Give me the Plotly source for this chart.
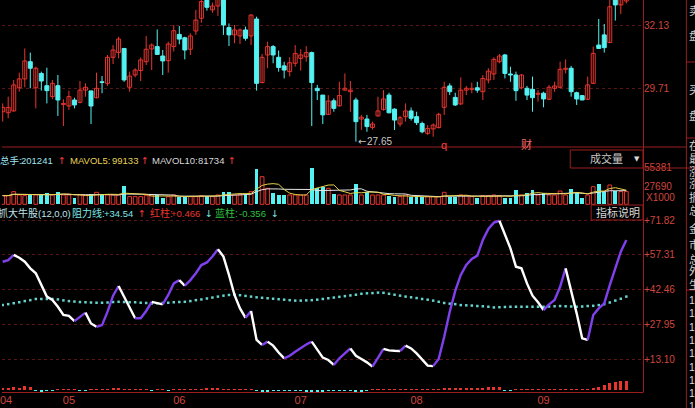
import plotly.graph_objects as go
import pandas as pd

# ---------------- data ----------------
open_ = [28.80, 28.76, 28.83, 29.72, 30.06, 30.72, 29.72, 30.27, 29.80, 29.38,
         29.80, 29.08, 29.02, 29.25, 29.16, 29.63, 29.60, 29.34, 29.95, 29.89,
         30.89, 31.07, 31.23, 29.74, 30.21, 30.38, 30.72, 31.21, 31.30, 30.94,
         30.76, 31.30, 31.77, 31.64, 31.20, 31.90, 32.39, 33.20, 32.71, 32.86,
         33.22, 32.03, 31.75, 31.71, 31.94, 31.71, 32.36, 29.92, 30.98, 31.30,
         30.89, 30.56, 30.34, 30.66, 30.85, 30.91, 31.07, 29.70, 29.44, 28.70,
         29.22, 29.03, 29.63, 29.57, 29.25, 28.52, 28.52, 28.20, 28.64, 28.89,
         29.44, 28.90, 28.33, 28.61, 28.83, 28.61, 28.35, 27.97, 28.14, 28.19,
         28.97, 29.79, 29.35, 29.10, 29.63, 29.66, 29.72, 29.57, 30.02, 30.25,
         30.72, 30.98, 30.25, 30.21, 29.72, 29.70, 29.66, 29.47, 29.51, 29.28,
         29.70, 29.74, 30.43, 30.47, 29.53, 29.42, 29.28, 29.89, 31.36, 31.75,
         31.46, 33.22, 32.90, 33.05]
high = [29.12, 29.38, 30.02, 30.30, 31.23, 31.07, 30.53, 30.34, 30.49, 30.02,
        30.21, 29.28, 29.61, 29.34, 29.98, 29.89, 29.60, 30.30, 30.17, 30.98,
        31.36, 31.68, 31.23, 30.34, 30.47, 30.88, 31.71, 31.43, 31.96, 31.17,
        31.49, 32.13, 32.09, 31.68, 31.81, 32.71, 33.15, 33.40, 32.99, 33.47,
        33.35, 32.19, 32.13, 32.00, 32.07, 32.55, 32.45, 31.02, 31.49, 31.36,
        31.15, 30.72, 30.89, 31.36, 31.20, 31.32, 31.11, 29.83, 29.44, 29.44,
        29.31, 29.95, 30.27, 29.98, 29.34, 28.68, 28.68, 28.42, 29.38, 29.63,
        29.53, 28.93, 28.64, 29.12, 28.96, 28.80, 28.42, 28.29, 28.35, 28.76,
        29.95, 29.89, 29.53, 30.12, 29.79, 29.92, 29.95, 30.21, 30.47, 30.89,
        31.02, 31.02, 30.53, 30.34, 30.25, 29.79, 30.15, 29.63, 29.57, 29.83,
        29.95, 30.72, 30.81, 30.56, 29.57, 29.44, 30.15, 31.30, 32.36, 32.17,
        33.15, 33.41, 33.47, 33.47]
low = [28.42, 28.55, 28.80, 29.57, 29.74, 29.70, 28.93, 29.61, 29.12, 29.28,
       28.64, 28.25, 28.87, 28.93, 29.12, 29.38, 28.33, 29.31, 29.51, 29.79,
       30.63, 30.85, 29.95, 29.57, 30.12, 29.98, 30.59, 30.40, 30.98, 30.21,
       30.30, 31.11, 31.39, 30.81, 30.98, 31.75, 32.22, 32.68, 32.60, 32.48,
       31.75, 31.32, 31.43, 31.40, 31.53, 31.36, 29.61, 29.89, 30.47, 30.66,
       30.34, 30.08, 30.15, 30.53, 30.38, 30.72, 28.25, 29.25, 28.33, 28.68,
       28.80, 28.99, 29.61, 28.80, 27.65, 28.10, 28.03, 28.12, 28.61, 28.84,
       28.74, 28.10, 28.23, 28.42, 28.46, 28.29, 27.97, 27.91, 27.84, 28.16,
       28.68, 29.44, 29.02, 29.06, 29.44, 29.51, 29.53, 29.25, 29.89, 30.02,
       30.66, 30.08, 29.95, 29.22, 29.66, 29.25, 28.80, 29.19, 28.97, 29.25,
       29.57, 29.70, 30.27, 29.38, 29.06, 29.25, 29.25, 29.87, 31.23, 31.07,
       31.43, 32.30, 32.55, 32.96]
close = [28.97, 28.97, 29.83, 30.06, 30.75, 30.47, 30.47, 29.98, 29.61, 29.89,
         29.25, 29.12, 29.38, 29.06, 29.63, 29.74, 29.02, 29.70, 29.92, 30.89,
         31.17, 31.59, 30.02, 30.17, 30.40, 30.79, 31.20, 31.36, 31.00, 30.75,
         31.40, 31.91, 31.59, 31.17, 31.71, 32.32, 33.03, 32.81, 32.86, 33.22,
         32.13, 31.75, 31.94, 31.94, 31.62, 32.51, 29.89, 30.89, 31.30, 30.98,
         30.50, 30.40, 30.68, 31.04, 30.98, 31.07, 29.92, 29.61, 28.68, 29.21,
         28.93, 29.42, 29.70, 29.63, 28.42, 28.59, 28.23, 28.33, 28.83, 29.29,
         28.76, 28.48, 28.57, 28.83, 28.55, 28.38, 28.03, 28.16, 28.29, 28.70,
         29.74, 29.57, 29.06, 29.63, 29.70, 29.70, 29.63, 30.08, 30.36, 30.81,
         30.94, 30.27, 30.21, 29.61, 30.21, 29.44, 29.34, 29.51, 29.29, 29.74,
         29.79, 30.43, 30.47, 29.57, 29.29, 29.25, 29.83, 31.04, 31.23, 31.26,
         32.83, 32.90, 33.28, 33.35]
volume = [13100, 13100, 19150, 14110, 13100, 14110, 14110, 14110, 16630, 14110,
          19150, 14110, 14110, 10080, 14110, 14110, 15120, 18140, 14110, 14110,
          14110, 14110, 27720, 11590, 11590, 11590, 13100, 14110, 14110, 10080,
          11590, 14110, 11590, 11590, 11590, 11590, 13100, 13100, 11590, 14110,
          19150, 19150, 14110, 14110, 14110, 19150, 53420, 41830, 24190, 17640,
          14110, 14110, 14110, 14110, 14110, 14110, 55381, 25200, 26710, 24190,
          15120, 14110, 14110, 14110, 30740, 14110, 19150, 14110, 14110, 14110,
          12600, 11590, 11590, 14110, 10580, 10580, 10580, 11590, 11590, 11590,
          18140, 11590, 11590, 14110, 13100, 11590, 9070, 13100, 13100, 14110,
          13100, 9070, 10080, 21670, 14110, 16630, 21670, 14110, 16630, 14110,
          14110, 20160, 14110, 23180, 18140, 10080, 14110, 26710, 30240, 19150,
          29230, 20160, 19150, 19150]
indicator = [54.4, 55.1, 57.3, 56.1, 54.4, 51.6, 49.5, 44.5, 39.6, 38.2,
             35.3, 31.8, 31.4, 29.2, 31.1, 32.8, 28.2, 26.8, 27.5, 33.2,
             40.0, 44.1, 39.6, 35.3, 30.4, 30.4, 33.5, 37.4, 37.0, 36.3,
             40.3, 45.2, 46.6, 44.2, 46.6, 49.5, 53.0, 54.1, 56.6, 59.7,
             56.6, 48.8, 40.3, 34.6, 30.6, 33.5, 21.2, 19.1, 20.5, 18.8,
             15.9, 13.4, 14.5, 16.2, 17.9, 19.3, 20.5, 16.9, 13.7, 12.7,
             10.6, 13.4, 15.5, 17.6, 14.5, 13.1, 11.7, 9.9, 13.7, 17.4,
             16.8, 16.6, 16.5, 18.8, 17.6, 15.5, 12.7, 10.3, 10.1, 13.1,
             22.6, 33.2, 42.0, 48.8, 53.0, 55.6, 57.0, 63.6, 68.3, 71.0,
             71.8, 65.7, 60.1, 52.3, 51.6, 45.2, 40.0, 37.2, 33.9, 36.3,
             38.2, 43.8, 51.6, 42.4, 32.5, 21.9, 21.2, 31.8, 34.6, 36.7,
             44.5, 51.6, 58.7, 63.6]
resistance = [36.0, 36.4, 36.8, 37.2, 37.7, 38.1, 38.6, 38.6, 38.6, 38.6,
              38.4, 38.0, 37.7, 37.5, 37.3, 37.2, 37.1, 37.0, 37.0, 37.1,
              37.3, 37.4, 37.3, 37.2, 37.2, 37.0, 36.9, 36.7, 36.8, 36.9,
              37.0, 37.2, 37.3, 37.4, 37.7, 38.1, 38.4, 38.8, 39.2, 39.6,
              40.0, 40.3, 40.5, 40.2, 39.9, 39.6, 39.3, 39.1, 38.9, 38.7,
              38.5, 38.3, 38.1, 37.9, 37.9, 38.0, 38.1, 38.3, 38.6, 38.9,
              39.2, 39.5, 39.8, 40.1, 40.4, 40.8, 41.0, 41.1, 41.3, 41.2,
              40.8, 40.4, 40.0, 39.6, 39.3, 39.0, 38.6, 38.3, 37.9, 37.4,
              36.9, 36.6, 36.4, 36.0, 35.9, 35.8, 35.6, 35.5, 35.3, 35.0,
              35.1, 35.2, 35.3, 35.3, 35.3, 35.3, 35.3, 35.3, 35.3, 35.4,
              35.5, 35.6, 35.5, 35.4, 35.3, 35.4, 35.6, 35.7, 36.0, 36.4,
              37.1, 37.9, 38.7, 39.6]
histogram = [0.8, 1.0, 1.2, 1.0, 1.5, 1.2, -0.6, -0.8, -0.6, -0.5,
             0.2, 0.2, 0.2, 0.2, -0.3, -0.3, 0.2, 0.2, 0.3, 0.6,
             0.8, 0.8, 0.6, 0.5, 0.5, 0.5, 0.4, -0.4, 0.4, 0.4,
             -0.3, 0.4, 0.4, 0.4, 0.5, 0.6, 0.6, 0.7, 0.7, 0.8,
             0.6, 0.3, 0.2, 0.2, 0.2, 0.2, -0.6, -0.8, -0.7, -0.6,
             -0.6, -0.5, -0.6, -0.6, -0.6, -0.7, -0.8, -0.8, -0.7, -0.6,
             -0.6, -0.5, -0.5, -0.5, -0.7, -0.7, -0.4, 0.3, 0.3, 0.3,
             0.3, 0.3, 0.3, 0.3, 0.3, 0.3, 0.3, 0.3, 0.4, 0.6,
             0.8, 0.9, 1.0, 1.0, 0.9, 1.0, 0.9, 1.0, 1.2, 1.3,
             1.2, -0.6, -0.5, 0.2, 0.2, 0.2, 0.2, 0.2, 0.2, 0.2,
             0.2, 0.2, 0.2, 0.2, 0.2, 0.2, 0.2, 0.8, 1.2, 2.0,
             2.8, 3.2, 3.6, 4.0]
month_pos = [0.6, 12, 32, 54, 75, 98]
month_labels = ["04", "05", "06", "07", "08", "09"]
price_ticks = [32.13, 29.71]
volume_ticks = [55381, 27690]
indicator_ticks = [71.82, 57.31, 42.46, 27.95, 13.10]
right_chars = [("卖", 11), ("盘", 35), ("买", 90), ("盘", 115), ("在", 146),
               ("最", 159), ("涨", 172), ("涨", 184), ("振", 197), ("总", 210),
               ("金", 229), ("市", 244), ("总", 259), ("外", 271), ("生", 284)]
right_nums_y = [300, 313, 327, 340, 353, 367, 380, 393, 406]

# ---------------- layout helpers ----------------
W, H = 695, 408
ML, MR, MT, MB = 0, 52, 0, 16
PW, PH = W - ML - MR, H - MT - MB


def fx(px):
    return (px - ML) / PW


def fy(py):
    return 1 - (py - MT) / PH


RED = "#e8352e"
CYAN = "#54f2f2"
GRID = "#5a1616"
FRAME = "#9a1e1e"
LABEL = "#d0463c"
FONT = "Liberation Sans, Noto Sans CJK SC, sans-serif"
ARROWFONT = "DejaVu Sans"

n = len(open_)
idx = list(range(n))
up = [c >= o for o, c in zip(open_, close)]

fig = go.Figure()

# ---- candles: wicks then bodies ----
for is_up, col in ((True, RED), (False, CYAN)):
    wx, wy = [], []
    for i in idx:
        if up[i] == is_up:
            wx += [i, i, None]
            wy += [high[i], low[i], None]
    fig.add_trace(go.Scatter(x=wx, y=wy, mode="lines", line=dict(color=col, width=1),
                             xaxis="x", yaxis="y", hoverinfo="skip", showlegend=False))
for is_up, col, fill in ((True, RED, "black"), (False, CYAN, CYAN)):
    bx = [i for i in idx if up[i] == is_up]
    base = [min(open_[i], close[i]) for i in bx]
    hgt = [max(abs(close[i] - open_[i]), 0.012) for i in bx]
    fig.add_trace(go.Bar(x=bx, y=hgt, base=base, width=0.72, xaxis="x", yaxis="y",
                         marker=dict(color=fill, line=dict(color=col, width=1)),
                         hoverinfo="skip", showlegend=False))

# ---- volume ----
vol_up = [v if u else None for v, u in zip(volume, up)]
vol_dn = [None if u else v for v, u in zip(volume, up)]
fig.add_trace(go.Bar(x=idx, y=vol_up, width=0.68, yaxis="y2", xaxis="x",
                     marker=dict(color="black", line=dict(color=RED, width=1)),
                     showlegend=False, hoverinfo="skip"))
fig.add_trace(go.Bar(x=idx, y=vol_dn, width=0.68, yaxis="y2", xaxis="x",
                     marker=dict(color=CYAN, line=dict(width=0)),
                     showlegend=False, hoverinfo="skip"))
vs = pd.Series(volume, dtype=float)
ma5 = vs.rolling(5, min_periods=1).mean()
ma10 = vs.rolling(10, min_periods=1).mean()
fig.add_trace(go.Scatter(x=idx, y=ma10, mode="lines", yaxis="y2", xaxis="x",
                         line=dict(color="#e6e6e6", width=1), showlegend=False, hoverinfo="skip"))
fig.add_trace(go.Scatter(x=idx, y=ma5, mode="lines", yaxis="y2", xaxis="x",
                         line=dict(color="#e8d24a", width=1), showlegend=False, hoverinfo="skip"))

# ---- indicator ----
fig.add_trace(go.Bar(x=idx, y=histogram, width=0.55, yaxis="y3", xaxis="x",
                     marker=dict(color=[RED if v >= 0 else CYAN for v in histogram], line=dict(width=0)),
                     showlegend=False, hoverinfo="skip"))
fig.add_trace(go.Scatter(x=idx, y=resistance, mode="markers", yaxis="y3", xaxis="x",
                         marker=dict(size=2.5, color="#62d4cc", symbol="square", line=dict(width=0)),
                         showlegend=False, hoverinfo="skip"))
start = 0
rising = indicator[1] >= indicator[0]
for i in range(1, n):
    r = indicator[i] >= indicator[i - 1]
    if r != rising:
        fig.add_trace(go.Scatter(x=idx[start:i], y=indicator[start:i], mode="lines",
                                 yaxis="y3", xaxis="x",
                                 line=dict(color="#8040ee" if rising else "#ffffff", width=2.4),
                                 showlegend=False, hoverinfo="skip"))
        start = i - 1
        rising = r
fig.add_trace(go.Scatter(x=idx[start:], y=indicator[start:], mode="lines", yaxis="y3", xaxis="x",
                         line=dict(color="#8040ee" if rising else "#ffffff", width=2.4),
                         showlegend=False, hoverinfo="skip"))

# ---------------- shapes ----------------
shapes = []


def hline(py, x0, x1, color=FRAME):
    shapes.append(dict(type="line", xref="paper", yref="paper", x0=fx(x0), x1=fx(x1),
                       y0=fy(py), y1=fy(py), line=dict(color=color, width=1)))


def vline(px, y0, y1, color=FRAME):
    shapes.append(dict(type="line", xref="paper", yref="paper", x0=fx(px), x1=fx(px),
                       y0=fy(y0), y1=fy(y1), line=dict(color=color, width=1)))


def rect(x0, y0, x1, y1):
    shapes.append(dict(type="rect", xref="paper", yref="paper", x0=fx(x0), x1=fx(x1),
                       y0=fy(y1), y1=fy(y0), line=dict(color=FRAME, width=1)))


hline(147, 0, 686)
hline(392.5, 0, 643)
vline(643.5, 0, 392.5)
vline(686.5, 0, 408)
rect(570, 150, 643, 168)
hline(168, 643, 695)
rect(591, 205, 643, 220)
hline(62, 686, 695)
hline(138, 686, 695)
hline(290, 686, 695)

# ---------------- annotations ----------------
ann = []


def text(px, py, s, color, size=9.5, anchor="left", font=FONT):
    ann.append(dict(xref="paper", yref="paper", x=fx(px), y=fy(py), text=s, showarrow=False,
                    xanchor=anchor, yanchor="middle", borderpad=0,
                    font=dict(color=color, size=size, family=font)))


ARW_RED = "#ff3c3c"
ARW_CY = "#7fe6e6"
# volume header
text(-3, 160, "总手:", "#9fe3ee")
text(18, 160, "201241", "#9fe3ee")
text(55, 160, "↑", ARW_RED, font=ARROWFONT)
text(67, 160, "MAVOL5:", "#e6d25a")
text(109, 160, "99133", "#e6d25a")
text(138, 160, "↑", ARW_RED, font=ARROWFONT)
text(149, 160, "MAVOL10:", "#d8d8d8")
text(196, 160, "81734", "#d8d8d8")
text(226, 160, "↑", ARW_RED, font=ARROWFONT)
# indicator header
text(-5, 213, "抓大牛股", "#bfe3ea", size=10)
text(35, 213, "(12,0,0)", "#bfe3ea")
text(69, 213, "阻力线:", "#7fe6e6", size=10)
text(101, 213, "+34.54", "#7fe6e6")
text(135, 213, "↑", ARW_RED, font=ARROWFONT)
text(147, 213, "红柱:", "#e8352e", size=10)
text(169, 213, "+0.466", "#e8352e")
text(203, 213, "↓", ARW_CY, font=ARROWFONT)
text(213, 213, "蓝柱:", "#2fc040", size=10)
text(237, 213, "-0.356", "#2fc040")
text(269, 213, "↓", ARW_CY, font=ARROWFONT)
# boxes
text(589, 159, "成交量", "#c8c8c8", size=11)
text(633, 159, "▼", "#d8d8d8", size=7, font=ARROWFONT)
text(595, 212.5, "指标说明", "#d8d8d8", size=11)
# volume unit label
text(645, 198, "X1000", LABEL, size=10)
# right info column
for ch, py in right_chars:
    text(688, py, ch, "#cfcfcf", size=11)
for py in right_nums_y:
    text(688, py, "14", "#d8d8d8", size=10.5)

# event marks and low label
ann.append(dict(xref="x", yref="paper", x=80, y=fy(145), text="q", showarrow=False,
                font=dict(color="#ff4040", size=11, family=FONT), yanchor="middle"))
ann.append(dict(xref="x", yref="paper", x=95, y=fy(144), text="财", showarrow=False,
                font=dict(color="#ff6a6a", size=11, family=FONT), yanchor="middle"))
low_i = min(idx, key=lambda i: low[i])
ann.append(dict(xref="x", yref="y", x=low_i, y=low[low_i], text="←", xshift=1,
                showarrow=False, xanchor="left", yanchor="middle", borderpad=0,
                font=dict(color="#c8c8c8", size=10, family=ARROWFONT)))
ann.append(dict(xref="x", yref="y", x=low_i, y=low[low_i], text=f"{low[low_i]:.2f}", xshift=10,
                showarrow=False, xanchor="left", yanchor="middle", borderpad=0,
                font=dict(color="#c8c8c8", size=10, family=FONT)))

axis_common = dict(side="right", anchor="x", zeroline=False, showline=False, ticks="",
                   tickfont=dict(color=LABEL, size=10, family=FONT), fixedrange=True)

fig.update_layout(
    width=W, height=H, margin=dict(l=ML, r=MR, t=MT, b=MB),
    paper_bgcolor="black", plot_bgcolor="black", showlegend=False,
    barmode="overlay", bargap=0,
    font=dict(family=FONT),
    xaxis=dict(range=[-0.126, 116.02], anchor="y3", tickmode="array", tickvals=month_pos,
               ticktext=month_labels, tickfont=dict(color=LABEL, size=11, family=FONT),
               ticklabeloverflow="allow",
               showgrid=False, zeroline=False, showline=False, ticks="",
               rangeslider=dict(visible=False), fixedrange=True),
    yaxis=dict(domain=[fy(147), 1], range=[27.446, 33.09], tickmode="array",
               tickvals=price_ticks, ticktext=[f"{v:.2f}" for v in price_ticks],
               showgrid=True, gridcolor=GRID, griddash="dot", gridwidth=1, **axis_common),
    yaxis2=dict(domain=[fy(205), fy(148)], range=[-1060, 85180], tickmode="array",
                tickvals=volume_ticks, ticktext=[str(v) for v in volume_ticks],
                showgrid=False, **axis_common),
    yaxis3=dict(domain=[0, fy(205)], range=[-0.88, 78.48], tickmode="array",
                tickvals=indicator_ticks, ticktext=[f"+{v:.2f}" for v in indicator_ticks],
                showgrid=True, gridcolor=GRID, griddash="dot", gridwidth=1, **axis_common),
    shapes=shapes, annotations=ann,
)

fig.write_html("out.html", config={"displayModeBar": False, "staticPlot": True},
               post_script="document.body.style.margin='0';document.body.style.padding='0';"
                           "document.documentElement.style.overflow='hidden';")
